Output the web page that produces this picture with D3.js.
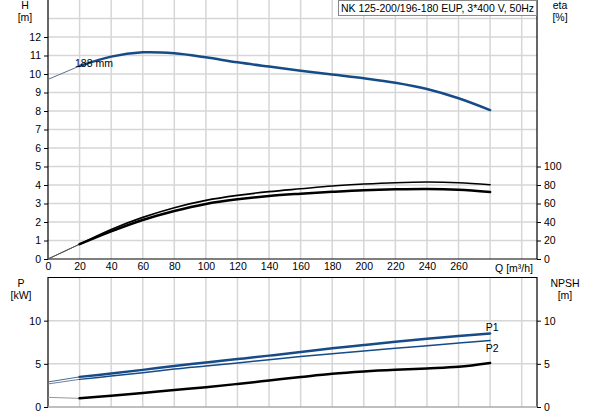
<!DOCTYPE html>
<html>
<head>
<meta charset="utf-8">
<script src="https://cdn.jsdelivr.net/npm/d3@7"></script>
<style>
  body { margin: 0; background: #fff; }
  svg { display: block; font-family: "Liberation Sans", Arial, sans-serif; font-size: 10.5px; }
</style>
</head>
<body>
<svg id="chart" width="593" height="415"></svg>
<script>
// values
const flow = [0, 20, 40, 60, 80, 100, 120, 140, 160, 180, 200, 220, 240, 260, 280];
const head = [9.71, 10.43, 10.94, 11.17, 11.12, 10.9, 10.63, 10.4, 10.18, 9.97, 9.77, 9.53, 9.19, 8.69, 8.05];
const etaTotal = [0, 16, 32, 45, 55.5, 63.4, 68.8, 72.8, 75.9, 78.9, 81, 82.5, 83.2, 82.5, 80.3];
const etaPump = [0, 16, 29.9, 42.2, 51.9, 59.5, 64.5, 68.2, 70.6, 72.6, 74.3, 75.3, 75.7, 74.8, 72.4];
const powerP1 = [2.9, 3.49, 3.88, 4.3, 4.75, 5.15, 5.55, 5.95, 6.36, 6.8, 7.18, 7.55, 7.9, 8.22, 8.52];
const powerP2 = [2.67, 3.2, 3.58, 3.98, 4.4, 4.75, 5.1, 5.47, 5.85, 6.18, 6.5, 6.8, 7.1, 7.4, 7.7];
const npsh = [1.12, 1.0, 1.3, 1.63, 1.98, 2.3, 2.67, 3.07, 3.47, 3.85, 4.12, 4.32, 4.47, 4.65, 5.1];

const qTicks = [0, 20, 40, 60, 80, 100, 120, 140, 160, 180, 200, 220, 240, 260];
const qGrid = [20, 40, 60, 80, 100, 120, 140, 160, 180, 200, 220, 240, 260, 280, 300];
const hTicks = [0, 1, 2, 3, 4, 5, 6, 7, 8, 9, 10, 11, 12];
const hGrid = [1, 2, 3, 4, 5, 6, 7, 8, 9, 10, 11, 12, 13];
const etaTicks = [0, 20, 40, 60, 80, 100];
const pTicks = [0, 5, 10];

const title = "NK 125-200/196-180 EUP, 3*400 V, 50Hz";
const blue = "#174b88";
const gridColor = "#d6d6d6";

const svg = d3.select("#chart");

const x = d3.scaleLinear().domain([0, 309.7]).range([48, 537]);
const yH = d3.scaleLinear().domain([0, 14]).range([259, 0]);
const yEta = d3.scaleLinear().domain([0, 280]).range([259, 0]);
const yP = d3.scaleLinear().domain([0, 15]).range([407, 277.5]);
const yN = d3.scaleLinear().domain([0, 15]).range([407, 277.5]);

// ---------- grid ----------
const grid = svg.append("g").attr("stroke", gridColor).attr("stroke-width", 1.5);
[[0, 259], [277.5, 407]].forEach(([y0, y1]) => {
  grid.selectAll(null).data(qGrid).enter().append("line")
    .attr("x1", d => x(d)).attr("x2", d => x(d))
    .attr("y1", y0).attr("y2", y1);
});
grid.selectAll(null).data(hGrid).enter().append("line")
  .attr("x1", 48).attr("x2", 537)
  .attr("y1", d => yH(d)).attr("y2", d => yH(d));
grid.selectAll(null).data([5, 10]).enter().append("line")
  .attr("x1", 48).attr("x2", 537)
  .attr("y1", d => yP(d)).attr("y2", d => yP(d));

// ---------- axes ----------
function styleAxis(g) {
  g.select(".domain").remove();
  g.selectAll(".tick line").attr("stroke", "#000");
  g.selectAll(".tick text").attr("fill", "#000").style("font-size", "10.5px")
    .style("font-family", "'Liberation Sans', Arial, sans-serif");
}

svg.append("g").attr("transform", "translate(48,0)")
  .call(d3.axisLeft(yH).tickValues(hTicks).tickSize(4).tickPadding(3))
  .call(styleAxis);
svg.append("g").attr("transform", "translate(537,0)")
  .call(d3.axisRight(yEta).tickValues(etaTicks).tickSize(4).tickPadding(3))
  .call(styleAxis);
svg.append("g").attr("transform", "translate(0,259)")
  .call(d3.axisBottom(x).tickValues(qTicks).tickSize(0).tickPadding(4))
  .call(styleAxis);
svg.append("g").attr("transform", "translate(48,0)")
  .call(d3.axisLeft(yP).tickValues(pTicks).tickSize(4).tickPadding(3))
  .call(styleAxis);
svg.append("g").attr("transform", "translate(537,0)")
  .call(d3.axisRight(yN).tickValues(pTicks).tickSize(4).tickPadding(3))
  .call(styleAxis);

// frame lines
const frame = svg.append("g").attr("stroke", "#000").attr("stroke-width", 1.2).attr("fill", "none");
frame.append("path").attr("d", "M48,0V259H537V0");
frame.append("path").attr("d", "M48,407V277.5H537V407");
svg.append("line").attr("x1", 48).attr("x2", 537).attr("y1", 407).attr("y2", 407)
  .attr("stroke", "#aaa").attr("stroke-width", 1.5);

// ---------- curves ----------
function drawCurve(values, yScale, color, width, thinColor) {
  const pts = flow.map((q, i) => [q, values[i]]);
  const line = d3.line().x(d => x(d[0])).y(d => yScale(d[1])).curve(d3.curveCatmullRom.alpha(0.5));
  svg.append("path").datum(pts.slice(0, 2)).attr("d", line)
    .attr("fill", "none").attr("stroke", thinColor).attr("stroke-width", 1);
  svg.append("path").datum(pts.slice(1)).attr("d", line)
    .attr("fill", "none").attr("stroke", color).attr("stroke-width", width)
    .attr("stroke-linecap", "round");
}

drawCurve(head, yH, blue, 2.5, "#5b6f90");
drawCurve(etaTotal, yEta, "#000", 1.6, "#555");
drawCurve(etaPump, yEta, "#000", 2.5, "#555");
drawCurve(powerP1, yP, blue, 2.5, "#4a6a96");
drawCurve(powerP2, yP, blue, 1.5, "#6a80a0");
drawCurve(npsh, yN, "#000", 2.5, "#999");

// ---------- labels ----------
const txt = (t, xx, yy, anchor) => svg.append("text").attr("x", xx).attr("y", yy)
  .attr("text-anchor", anchor || "middle").attr("fill", "#000").text(t);

txt("H", 25, 9);
txt("[m]", 25, 21);
txt("eta", 560, 9);
txt("[%]", 560, 21);
txt("P", 21, 287);
txt("[kW]", 21, 299);
txt("NPSH", 565, 287);
txt("[m]", 565, 299);
txt("Q [m³/h]", 533, 272, "end");
txt("188 mm", 75, 67, "start");
txt("P1", x(280) + 2, 331, "middle");
txt("P2", x(280) + 2, 352, "middle");

svg.append("rect").attr("x", 338.5).attr("y", 0.5).attr("width", 198).attr("height", 15)
  .attr("fill", "#fff").attr("stroke", "#888");
txt(title, 437.5, 12);
</script>
</body>
</html>
